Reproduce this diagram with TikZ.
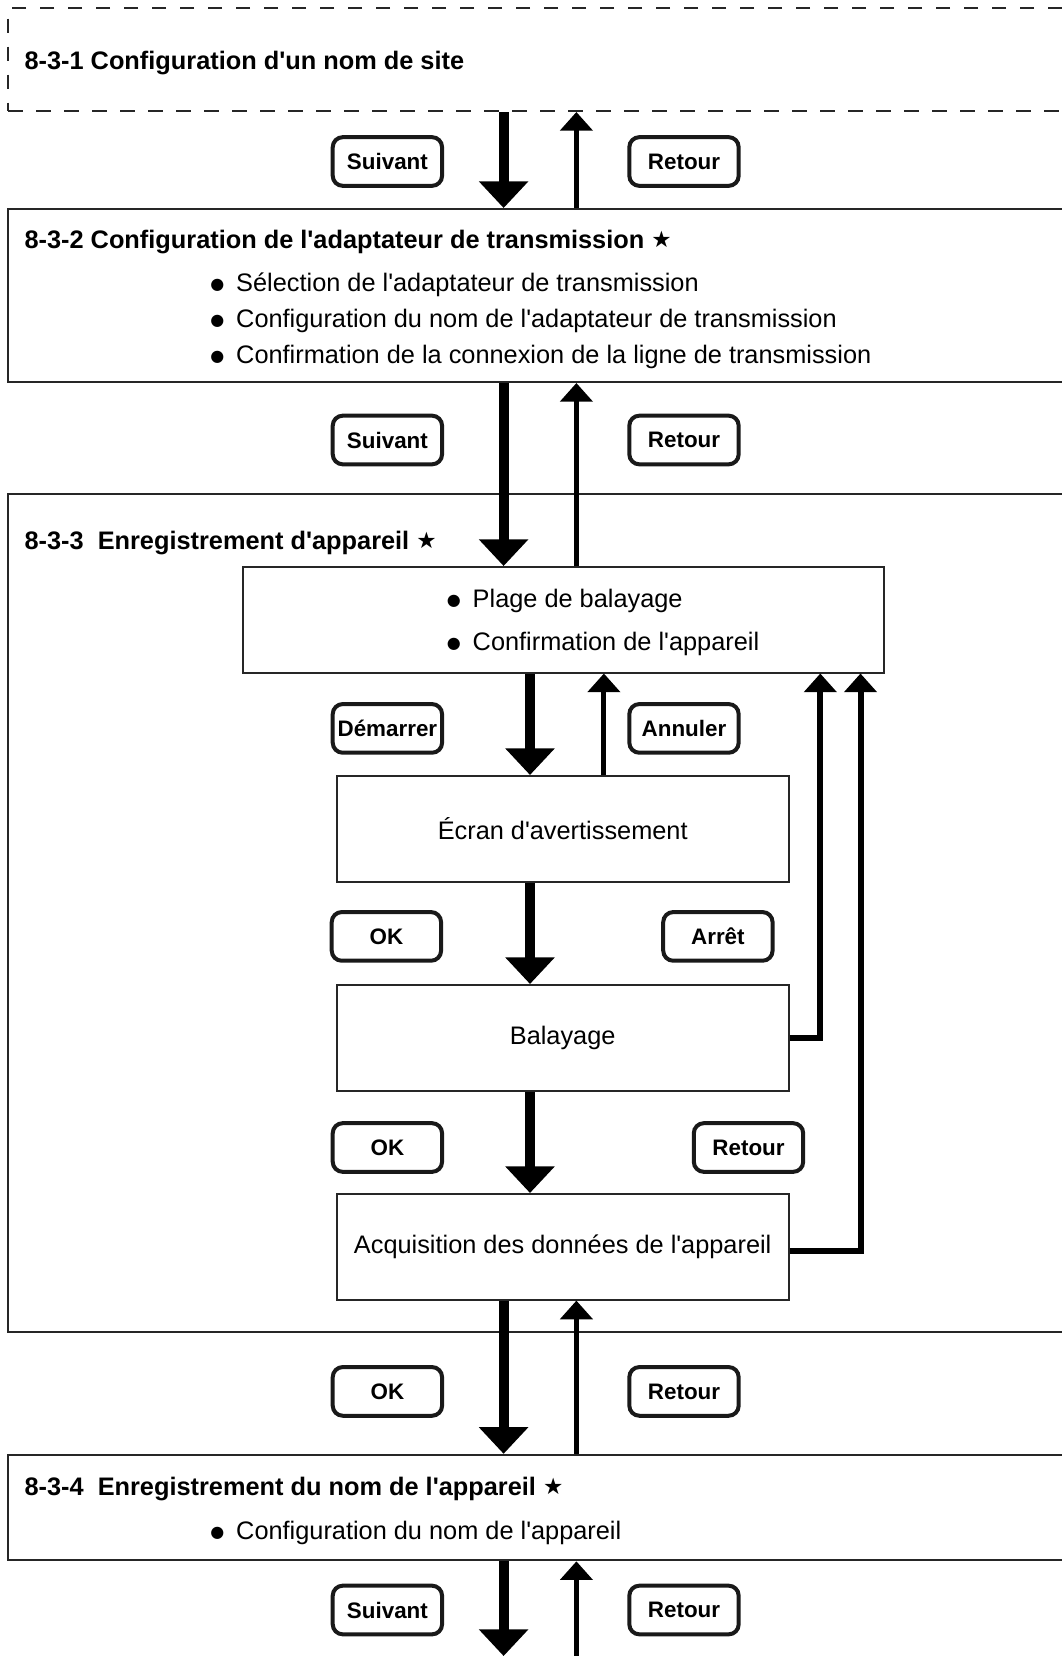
\documentclass[tikz,border=0pt]{standalone}
\usepackage{fontspec}
\setmainfont{Liberation Sans}[Ligatures=TeXOff]
\newfontfamily\dejavu{DejaVu Sans}
\usetikzlibrary{arrows.meta,fit}
\newcommand\bul{\raisebox{1.5pt}{\dejavu\fontsize{12}{12}\selectfont ●}\hspace{9pt}}
\newcommand\etoile{\raisebox{0.8pt}{\dejavu\fontsize{17}{17}\selectfont ★}}
\begin{document}
\begin{tikzpicture}[x=0.75pt,y=-0.75pt,
  frame/.style={draw=black!85, line width=1.5pt, inner sep=0pt},
  dframe/.style={frame, dash pattern=on 11pt off 10pt},
  btn/.style={draw=black!90, line width=3pt, rounded corners=7.5pt, minimum width=82pt, minimum height=36.5pt, inner sep=0pt, font=\fontsize{16.8}{18}\selectfont\bfseries},
  ttl/.style={anchor=mid west, yshift=-4pt, inner sep=0pt, font=\fontsize{19}{22}\selectfont\bfseries},
  txt/.style={inner sep=0pt, font=\fontsize{19}{22}\selectfont},
  btxt/.style={txt, anchor=mid west, yshift=-4pt},
  bigarrow/.style={line width=7.5pt, -{Triangle[width=36pt,length=20pt]}},
  thinarrow/.style={line width=3.75pt, -{Triangle[width=24pt,length=14pt]}},
  backline/.style={line width=4.5pt, -{Triangle[width=24pt,length=14pt]}},
]
\useasboundingbox (0,0) rectangle (1062,1656);
\clip (0,0) rectangle (1062,1656);

% column coordinates
\coordinate (dA) at (503.6,0);
\coordinate (uA) at (576.4,0);
\coordinate (dB) at (530,0);
\coordinate (uB) at (603.9,0);
\coordinate (rA) at (820.3,0);
\coordinate (rB) at (860.5,0);
\coordinate (bot) at (0,1656);

% boxes
\node[dframe, fit={(8.4,8.4) (1100,111)}] (box1) {};
\node[frame, fit={(8.4,209) (1100,382)}] (box2) {};
\node[frame, fit={(8.4,494) (1100,1332)}] (box3) {};
\node[frame, fit={(242.8,567) (883.6,672.5)}] (inner) {};
\node[frame, fit={(336.8,776) (788.6,881.5)}] (ecran) {};
\node[frame, fit={(336.8,985) (788.6,1090.5)}] (bal) {};
\node[frame, fit={(336.8,1194) (788.6,1299.6)}] (acq) {};
\node[frame, fit={(8.4,1454.8) (1100,1560.3)}] (box4) {};

% titles and texts
\node[ttl] (t1) at (24.3,61) {8-3-1 Configuration d'un nom de site};
\node[ttl] (t2) at (24.3,239.6) {8-3-2 Configuration de l'adaptateur de transmission \etoile};
\node[btxt] (b2a) at (210,283) {\bul Sélection de l'adaptateur de transmission};
\node[btxt] (b2b) at (210,318.8) {\bul Configuration du nom de l'adaptateur de transmission};
\node[btxt] (b2c) at (210,354.7) {\bul Confirmation de la connexion de la ligne de transmission};
\node[ttl] (t3) at (24.3,540.5) {8-3-3\ \ Enregistrement d'appareil \etoile};
\node[btxt] (b3a) at (446.5,598.6) {\bul Plage de balayage};
\node[btxt] (b3b) at (446.5,641.9) {\bul Confirmation de l'appareil};
\node[txt] (ecrantxt) at (ecran.center) {Écran d'avertissement};
\node[txt] (baltxt) at (bal.center) {Balayage};
\node[txt] (acqtxt) at (acq.center) {Acquisition des données de l'appareil};
\node[ttl] (t4) at (24.3,1486.4) {8-3-4\ \ Enregistrement du nom de l'appareil \etoile};
\node[btxt] (b4a) at (210,1530.8) {\bul Configuration du nom de l'appareil};

% buttons
\node[btn] (s1) at (387.4,161.5) {Suivant};
\node[btn] (r1) at (684,161.5) {Retour};
\node[btn] (s2) at (387.4,440) {Suivant};
\node[btn] (r2) at (684,440) {Retour};
\node[btn] (dem) at (387.4,728.4) {Démarrer};
\node[btn] (ann) at (684,728.4) {Annuler};
\node[btn] (ok1) at (386.4,936.4) {OK};
\node[btn] (arr) at (717.9,936.4) {Arrêt};
\node[btn] (ok2) at (387.4,1147.5) {OK};
\node[btn] (r3) at (748.5,1147.5) {Retour};
\node[btn] (ok3) at (387.4,1391.4) {OK};
\node[btn] (r4) at (684,1391.4) {Retour};
\node[btn] (s4) at (387.4,1610) {Suivant};
\node[btn] (r5) at (684,1610) {Retour};

% arrows between outer stages
\draw[bigarrow] (box1.south -| dA) -- (box2.north -| dA);
\draw[thinarrow] (box2.north -| uA) -- (box1.south -| uA);
\draw[bigarrow] (box2.south -| dA) -- (inner.north -| dA);
\draw[thinarrow] (inner.north -| uA) -- (box2.south -| uA);
\draw[bigarrow] (acq.south -| dA) -- (box4.north -| dA);
\draw[thinarrow] (box4.north -| uA) -- (acq.south -| uA);
\draw[bigarrow] (box4.south -| dA) -- (bot -| dA);
\draw[thinarrow] (bot -| uA) -- (box4.south -| uA);

% inner arrows
\draw[bigarrow] (inner.south -| dB) -- (ecran.north -| dB);
\draw[thinarrow] (ecran.north -| uB) -- (inner.south -| uB);
\draw[bigarrow] (ecran.south -| dB) -- (bal.north -| dB);
\draw[bigarrow] (bal.south -| dB) -- (acq.north -| dB);
\draw[backline] (bal.east) -| (inner.south -| rA);
\draw[backline] ([yshift=-3pt]acq.east) -| (inner.south -| rB);
\end{tikzpicture}
\end{document}
